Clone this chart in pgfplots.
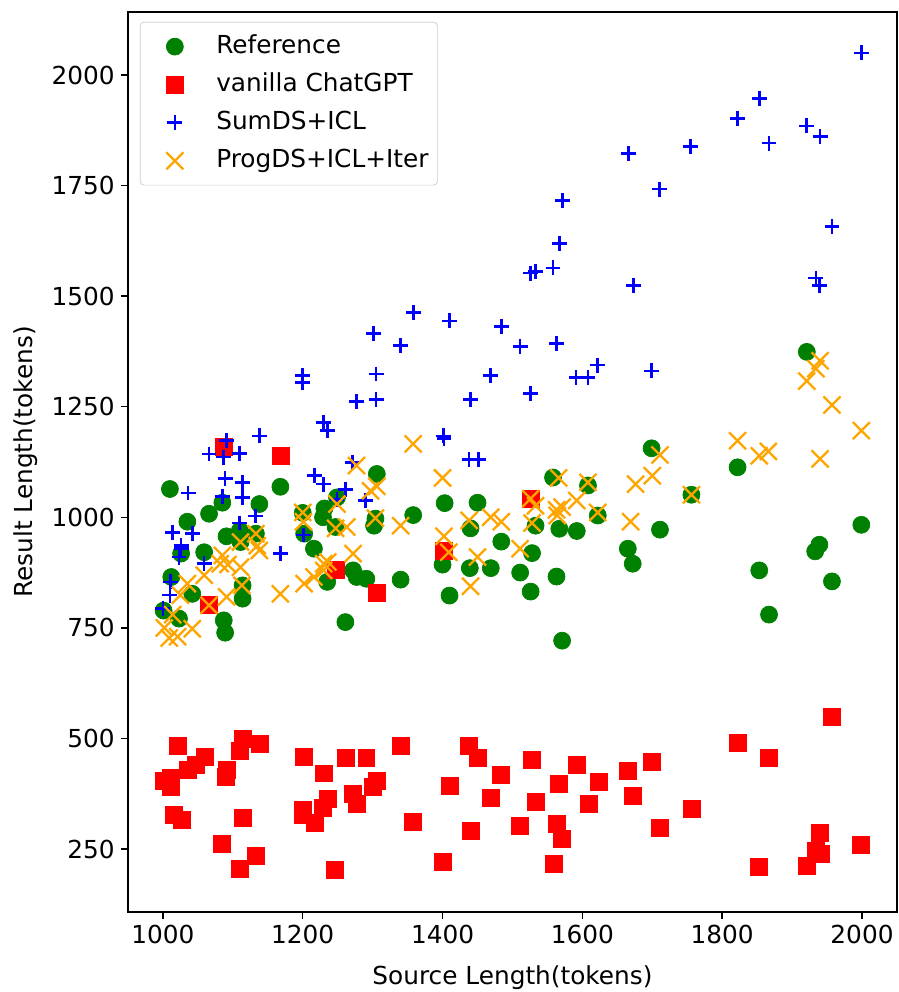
\documentclass[border=0pt]{standalone}
\usepackage{fontspec}
\setmainfont{DejaVu Sans}
\usepackage{pgfplots}
\pgfplotsset{compat=1.18}

\definecolor{mplgreen}{RGB}{0,128,0}
\definecolor{mplred}{RGB}{255,0,0}
\definecolor{mplblue}{RGB}{0,0,255}
\definecolor{mplorange}{RGB}{255,165,0}

\begin{document}
\begin{tikzpicture}
\begin{axis}[
    name=ax,
    scale only axis,
    width=434.5pt, height=508.5pt,
    xmin=950, xmax=2050,
    ymin=107.5, ymax=2142.5,
    xtick={1000,1200,1400,1600,1800,2000},
    ytick={250,500,750,1000,1250,1500,1750,2000},
    /pgf/number format/1000 sep={},
    /pgf/number format/assume math mode=true,
    tick align=outside,
    tick pos=left,
    major tick length=4pt,
    every tick/.style={black, line width=0.8pt},
    axis line style={line width=0.8pt},
    tick label style={font=\fontsize{14}{17}\selectfont},
    xlabel={Source Length(tokens)},
    ylabel={Result Length(tokens)},
    label style={font=\fontsize{14}{17}\selectfont},
    xlabel style={at={(axis description cs:0.5,-0.081)}, anchor=base},
    ylabel style={at={(axis description cs:-0.1236,0.5)}, anchor=base, rotate=0},
    legend style={at={(rel axis cs:0,1)}, anchor=north west, xshift=6.8pt, yshift=-5.6pt,
        font=\fontsize{14}{17}\selectfont, draw=black!20, rounded corners=2pt,
        row sep=0pt, inner xsep=3pt, inner ysep=3pt,
        nodes={text height=10.5pt, text depth=3pt, inner ysep=4pt}},
    legend cell align=left,
    legend image code/.code={%
        \path (0pt,0pt) (37.5pt,0pt);
        \draw[#1] plot coordinates {(16.3pt,0pt)};},
]

% Reference
\addplot[only marks, mark=*, mark size=4.8pt, color=mplgreen, mark options={draw=mplgreen, fill=mplgreen}] coordinates {
(1001,789)(1010,1064)(1012,865)(1026,918)(1042,827)(1023,771)(1035,990)(1059,921)
(1066,1008)(1085,1033)(1087,767)(1089,739)(1091,957)(1110,970)(1114,846)(1114,816)
(1111,944)(1133,963)(1138,1030)(1168,1069)(1200,1010)(1202,963)(1216,929)(1229,1000)
(1231,1020)(1235,854)(1249,1045)(1247,978)(1261,763)(1272,880)(1277,865)(1291,861)
(1306,1098)(1302,981)(1304,997)(1340,859)(1358,1005)(1400,893)(1403,1032)(1410,823)
(1439,885)(1440,975)(1450,1033)(1469,885)(1484,945)(1511,875)(1526,832)(1528,919)
(1533,981)(1558,1090)(1563,866)(1567,974)(1571,721)(1592,969)(1608,1072)(1622,1004)
(1665,929)(1672,895)(1699,1156)(1711,972)(1756,1051)(1822,1113)(1853,880)(1867,780)
(1921,1374)(1933,923)(1939,938)(1957,855)(1999,983)
};
\addlegendentry{Reference}

% vanilla ChatGPT
\addplot[only marks, mark=square*, mark size=4.8pt, color=mplred, mark options={draw=mplred, fill=mplred}] coordinates {
(1022,484)(1060,458)(1114,499)(1138,487)(1110,472)(1035,429)(1047,440)(1002,403)
(1012,410)(1011,391)(1092,429)(1090,412)(1015,327)(1027,316)(1114,321)(1085,261)
(1133,235)(1110,206)(1202,458)(1230,421)(1262,457)(1291,457)(1306,403)(1301,391)
(1272,374)(1277,352)(1236,363)(1229,342)(1200,339)(1200,327)(1218,309)(1246,202)
(1340,484)(1438,484)(1450,457)(1528,451)(1592,440)(1665,427)(1484,417)(1567,397)
(1623,402)(1410,393)(1469,365)(1533,356)(1609,352)(1672,371)(1358,312)(1440,291)
(1511,302)(1563,306)(1571,273)(1400,222)(1559,217)
(1957,549)(1822,491)(1867,455)(1699,448)(1756,341)(1711,297)(1940,287)(1934,246)
(1941,240)(1999,260)(1853,209)(1921,212)
(1087,1160)(1168,1138)(1066,801)(1248,881)(1306,830)(1526,1042)(1402,925)
};
\addlegendentry{vanilla ChatGPT}

% SumDS+ICL
\addplot[only marks, mark=+, mark size=4.2pt, color=mplblue, mark options={line width=1.5pt}] coordinates {
(1999,2050)(1853,1947)(1822,1902)(1921,1885)(1940,1861)(1867,1846)(1755,1838)(1710,1742)
(1666,1823)(1957,1657)(1934,1541)(1939,1524)(1673,1524)(1699,1331)(1567,1619)(1572,1716)
(1526,1552)(1533,1556)(1558,1564)(1358,1463)(1410,1444)(1484,1432)(1340,1389)(1511,1386)
(1563,1393)(1622,1344)(1591,1316)(1608,1316)(1469,1320)(1440,1267)(1526,1280)(1401,1184)
(1402,1178)(1438,1130)(1451,1130)(1301,1415)(1200,1320)(1200,1305)(1305,1324)(1305,1267)
(1277,1262)(1230,1214)(1235,1196)(1138,1184)(1091,1173)(1087,1136)(1066,1143)(1110,1144)
(1271,1124)(1217,1094)(1230,1075)(1261,1063)(1089,1087)(1114,1079)(1036,1055)(1085,1047)
(1114,1045)(1290,1038)(1132,1003)(1110,987)(1201,960)(1014,966)(1042,964)(1026,936)
(1026,929)(1023,910)(1059,895)(1168,918)(1011,854)(1010,824)(1000,794)(1249,1040)
};
\addlegendentry{SumDS+ICL}

% ProgDS+ICL+Iter
\addplot[only marks, mark=x, mark size=6.8pt, color=mplorange, mark options={line width=1.3pt}] coordinates {
(1940,1354)(1934,1336)(1921,1308)(1957,1254)(1999,1196)(1822,1173)(1866,1149)(1853,1139)
(1940,1132)(1711,1141)(1700,1094)(1676,1075)(1756,1051)(1669,990)
(1358,1166)(1400,1089)(1566,1089)(1608,1079)(1526,1042)(1533,1026)(1592,1038)(1563,1017)
(1571,1023)(1564,1004)(1622,1011)(1438,993)(1469,1000)(1484,990)(1528,987)(1340,981)
(1402,957)(1409,921)(1450,910)(1511,929)(1440,844)
(1277,1117)(1306,1070)(1297,1060)(1304,998)(1249,1030)(1247,975)(1263,978)(1200,1011)
(1201,990)(1133,963)(1111,944)(1135,936)(1138,925)(1085,914)(1082,895)(1093,893)
(1111,887)(1059,869)(1035,850)(1025,824)(1091,820)(1113,846)(1066,801)(1014,780)
(1002,750)(1009,727)(1021,730)(1042,748)(1168,827)(1202,850)(1216,865)(1230,880)
(1236,899)(1272,918)(1230,895)
};
\addlegendentry{ProgDS+ICL+Iter}

\end{axis}
\pgfresetboundingbox
\path[use as bounding box] ([shift={(-72.3pt,-45.2pt)}]ax.south west) rectangle ([shift={(0.6pt,6.8pt)}]ax.north east);
\end{tikzpicture}
\end{document}
